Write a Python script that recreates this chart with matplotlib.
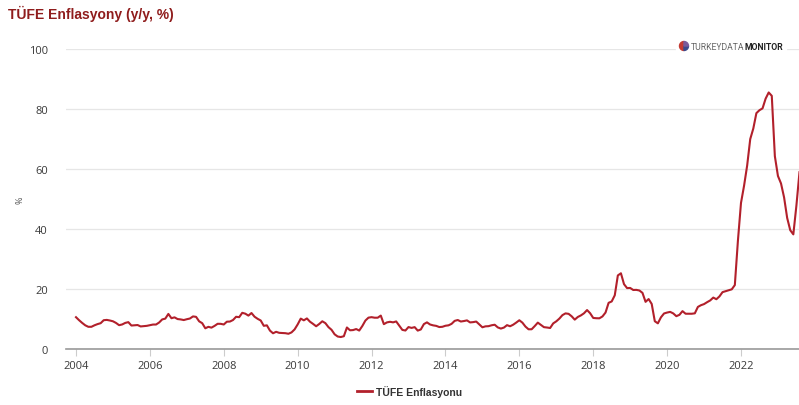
import matplotlib
matplotlib.use("Agg")
import matplotlib.pyplot as plt
from matplotlib.patches import Wedge
import numpy as np
import pandas as pd

# Annual CPI inflation (TÜFE, y/y %), monthly, Jan 2004 – Aug 2023
cpi_2004 = [10.6, 9.6, 8.7, 7.9, 7.4, 7.4, 7.9, 8.3, 8.6, 9.6, 9.7, 9.5]
cpi_2005 = [9.24, 8.69, 7.94, 8.18, 8.70, 8.95, 7.82, 7.91, 7.99, 7.52, 7.61, 7.72]
cpi_2006 = [7.93, 8.15, 8.16, 8.83, 9.86, 10.12, 11.69, 10.26, 10.55, 9.98, 9.86, 9.65]
cpi_2007 = [9.93, 10.16, 10.86, 10.72, 9.23, 8.60, 6.90, 7.39, 7.12, 7.70, 8.40, 8.39]
cpi_2008 = [8.17, 9.10, 9.15, 9.66, 10.74, 10.61, 12.06, 11.77, 11.13, 11.99, 10.76, 10.06]
cpi_2009 = [9.50, 7.73, 7.89, 6.13, 5.24, 5.73, 5.39, 5.33, 5.27, 5.08, 5.53, 6.53]
cpi_2010 = [8.19, 10.13, 9.56, 10.19, 9.10, 8.37, 7.58, 8.33, 9.24, 8.62, 7.29, 6.40]
cpi_2011 = [4.90, 4.16, 3.99, 4.26, 7.17, 6.24, 6.31, 6.65, 6.15, 7.66, 9.48, 10.45]
cpi_2012 = [10.61, 10.43, 10.43, 11.14, 8.28, 8.87, 9.07, 8.88, 9.19, 7.80, 6.37, 6.16]
cpi_2013 = [7.31, 7.03, 7.29, 6.13, 6.51, 8.30, 8.88, 8.17, 7.88, 7.71, 7.32, 7.40]
cpi_2014 = [7.75, 7.89, 8.39, 9.38, 9.66, 9.16, 9.32, 9.54, 8.86, 8.96, 9.15, 8.17]
cpi_2015 = [7.24, 7.55, 7.61, 7.91, 8.09, 7.20, 6.81, 7.14, 7.95, 7.58, 8.10, 8.81]
cpi_2016 = [9.58, 8.78, 7.46, 6.57, 6.58, 7.64, 8.79, 8.05, 7.28, 7.16, 7.00, 8.53]
cpi_2017 = [9.22, 10.13, 11.29, 11.87, 11.72, 10.90, 9.79, 10.68, 11.20, 11.90, 12.98, 11.92]
cpi_2018 = [10.35, 10.26, 10.23, 10.85, 12.15, 15.39, 15.85, 17.90, 24.52, 25.24, 21.62, 20.30]
cpi_2019 = [20.35, 19.67, 19.71, 19.50, 18.71, 15.72, 16.65, 15.01, 9.26, 8.55, 10.56, 11.84]
cpi_2020 = [12.15, 12.37, 11.86, 10.94, 11.39, 12.62, 11.76, 11.77, 11.75, 11.89, 14.03, 14.60]
cpi_2021 = [14.97, 15.61, 16.19, 17.14, 16.59, 17.53, 18.95, 19.25, 19.58, 19.89, 21.31, 36.08]
cpi_2022 = [48.69, 54.44, 61.14, 69.97, 73.50, 78.62, 79.60, 80.21, 83.45, 85.51, 84.39, 64.27]
cpi_2023 = [57.68, 55.18, 50.51, 43.68, 39.59, 38.21, 47.83, 58.94]

x_ticks = [2004, 2006, 2008, 2010, 2012, 2014, 2016, 2018, 2020, 2022]
y_ticks = [0, 20, 40, 60, 80, 100]

values = (cpi_2004 + cpi_2005 + cpi_2006 + cpi_2007 + cpi_2008 + cpi_2009 + cpi_2010
          + cpi_2011 + cpi_2012 + cpi_2013 + cpi_2014 + cpi_2015 + cpi_2016 + cpi_2017
          + cpi_2018 + cpi_2019 + cpi_2020 + cpi_2021 + cpi_2022 + cpi_2023)
dates = pd.date_range("2004-01-01", periods=len(values), freq="MS")
x = dates.year + (dates.month - 1) / 12.0

LINE = "#b2202b"
TITLE = "#8f1c1c"
TICK = "#3a3a3a"
W, H = 799, 406

fig = plt.figure(figsize=(W / 100, H / 100), dpi=100)
ax = fig.add_axes([66 / W, 1 - 350 / H, 1 - 66 / W, 300 / H])

ax.plot(x, values, color=LINE, lw=1.5, solid_joinstyle="round", zorder=3)

ax.set_xlim(2004 - 10 / 36.94, 2022 + 58 / 36.94)
ax.set_ylim(0, 100)
ax.set_xticks(x_ticks)
ax.set_yticks(y_ticks)
ax.set_xticklabels([str(t) for t in x_ticks])

ax.grid(axis="y", color="#e6e6e6", lw=0.9, zorder=0)
ax.grid(axis="x", visible=False)
for s in ("top", "right", "left"):
    ax.spines[s].set_visible(False)
ax.spines["bottom"].set_color("#999999")
ax.spines["bottom"].set_linewidth(1.2)
ax.spines["bottom"].set_zorder(4)

ax.tick_params(axis="x", length=5, width=0.8, color="#cccccc", pad=3,
               labelsize=8, labelcolor=TICK)
ax.tick_params(axis="y", length=0, pad=13, labelsize=8, labelcolor=TICK)
for lab in ax.get_xticklabels() + ax.get_yticklabels():
    lab.set_family("Open Sans")

fig.text(20 / W, 1 - 200 / H, "%", fontsize=6.5, color="#555555", family="Open Sans",
         rotation=90, ha="center", va="center")

fig.text(8 / W, 1 - 14 / H, "TÜFE Enflasyony (y/y, %)", fontsize=10,
         fontweight="bold", color=TITLE, family="Liberation Sans",
         ha="left", va="center")

# brand mark in the upper right corner
fig.patches.append(plt.Rectangle((676 / W, 1 - 54 / H), 110 / W, 14 / H,
                                 transform=fig.transFigure, color="white", zorder=5))
cx, cy, r = 684, 47, 4.5
for th1, th2, c in [(90, 270, "#c43a32"), (270, 360, "#3b4a8c"), (0, 90, "#7a5a9a")]:
    fig.patches.append(Wedge((cx, H - cy), r, th1, th2, color=c,
                             transform=None, zorder=6))
t1 = fig.text(691 / W, 1 - 47 / H, "TURKEYDATA", fontsize=6.2, color="#666666",
              family="Roboto", ha="left", va="center", zorder=6)
fig.canvas.draw()
bb = t1.get_window_extent(renderer=fig.canvas.get_renderer())
fig.text(bb.x1 / W, 1 - 47 / H, "MONITOR", fontsize=6.2, color="#222222",
         family="Roboto", fontweight="bold", ha="left", va="center", zorder=6)

# legend
fig.lines.append(plt.Line2D([357 / W, 372 / W], [1 - 392 / H] * 2,
                            transform=fig.transFigure, color=LINE, lw=2))
fig.text(376 / W, 1 - 392 / H, "TÜFE Enflasyonu", fontsize=7.5,
         fontweight="bold", color="#333333", family="Liberation Sans",
         ha="left", va="center")

fig.savefig("out.png", dpi=100)
